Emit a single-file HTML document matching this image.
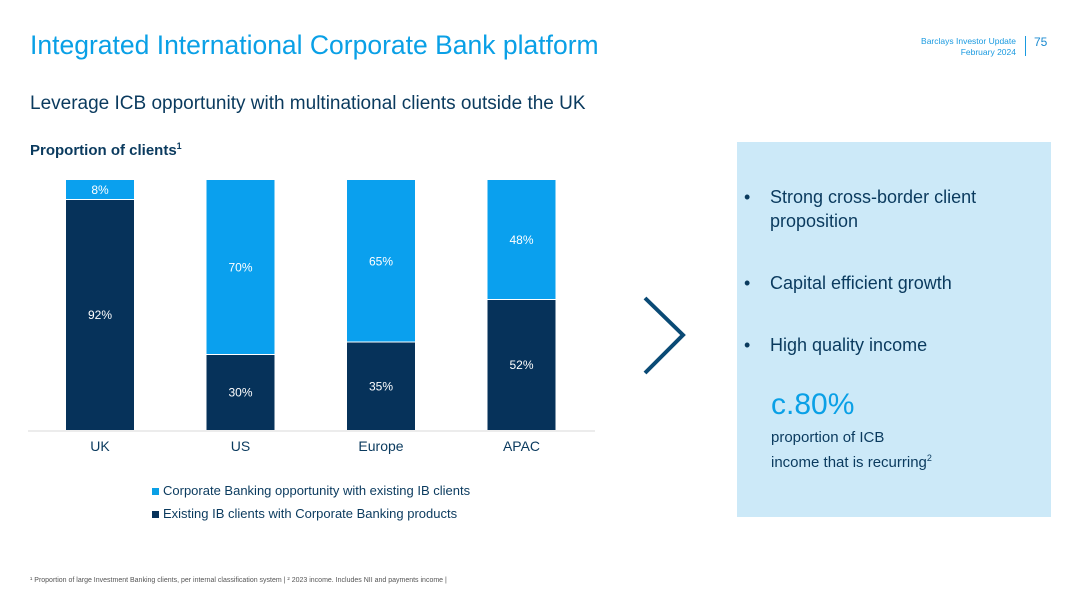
<!DOCTYPE html>
<html><head><meta charset="utf-8"><style>
body{margin:0;width:1080px;height:607px;background:#fff;font-family:"Liberation Sans",sans-serif;position:relative;overflow:hidden}
.a{position:absolute;white-space:nowrap}
.b{position:absolute;left:0}
.b span{position:absolute;left:26px;top:0}
</style></head><body>
<div class="a" style="left:30px;top:30px;font-size:26.5px;color:#0aa0e6">Integrated International Corporate Bank platform</div>
<div class="a" style="right:64px;top:36px;font-size:8.5px;color:#1a9ae0;text-align:right;line-height:11px">Barclays Investor Update<br>February 2024</div>
<div class="a" style="left:1025px;top:36px;width:1px;height:20px;background:#1a9ae0"></div>
<div class="a" style="left:1034px;top:35px;font-size:12px;color:#1a8ad0">75</div>
<div class="a" style="left:30px;top:93px;font-size:19px;color:#0a3a5e">Leverage ICB opportunity with multinational clients outside the UK</div>
<div class="a" style="left:30px;top:141px;font-size:15px;font-weight:bold;color:#0a3a5e">Proportion of clients<sup style="font-size:9px">1</sup></div>
<svg class="a" style="left:0;top:0" width="620" height="530" id="chart"></svg>
<div class="a" style="left:152px;top:479px;font-size:13px;color:#0a3a5e;line-height:23px">
<div><span style="display:inline-block;width:7px;height:7px;background:#0aa0e6;margin-right:4px"></span>Corporate Banking opportunity with existing IB clients</div>
<div><span style="display:inline-block;width:7px;height:7px;background:#06325a;margin-right:4px"></span>Existing IB clients with Corporate Banking products</div>
</div>
<svg class="a" style="left:640px;top:295px" width="50" height="82"><polyline points="5,3 43,40 5,78" fill="none" stroke="#0a4a75" stroke-width="4"/></svg>
<div class="a" style="left:737px;top:142px;width:314px;height:375px;background:#cce9f8"></div>
<div class="a" style="left:744px;top:185px;font-size:18px;color:#0a3a5e;line-height:24px">
<div class="b" style="top:0">•<span>Strong cross-border client<br>proposition</span></div>
<div class="b" style="top:86px">•<span>Capital efficient growth</span></div>
<div class="b" style="top:148px">•<span>High quality income</span></div>
</div>
<div class="a" style="left:771px;top:388px;font-size:30px;color:#0aa0e6">c.80%</div>
<div class="a" style="left:771px;top:428px;font-size:15px;color:#0a3a5e;line-height:20px">proportion of ICB<br>income that is recurring<sup style="font-size:9px">2</sup></div>
<div class="a" style="left:30px;top:577px;font-size:7px;color:#555">¹ Proportion of large Investment Banking clients, per internal classification system | ² 2023 income. Includes NII and payments income |</div>
<script>
const categories=["UK","US","Europe","APAC"];
const existing=[92,30,35,52];
const opportunity=[8,70,65,48];
const svg=document.getElementById('chart');
const NS='http://www.w3.org/2000/svg';
const top0=180,bottom=430,x0=100,step=140.5,bw=68;
const y=v=>bottom-(v/100)*(bottom-top0);
const cx=i=>x0+i*step;
function mk(t,a){const e=document.createElementNS(NS,t);for(const k in a)e.setAttribute(k,a[k]);svg.appendChild(e);return e;}
const base=mk('line',{x1:28,x2:595,y1:431,y2:431,stroke:'#e6e6e6','stroke-width':1.5});


categories.forEach((c,i)=>{
  const e=existing[i],o=opportunity[i];
  const r1=mk('rect',{x:cx(i)-bw/2,y:y(e),width:bw,height:bottom-y(e),fill:'#06325a'});
  
  
  const r2=mk('rect',{x:cx(i)-bw/2,y:y(e+o),width:bw,height:y(e)-y(e+o)-1,fill:'#0aa0ee'});
  
  
  const t1=mk('text',{x:cx(i),y:(y(e)+bottom)/2+4,'text-anchor':'middle','font-size':12,fill:'#fff','font-family':'Liberation Sans'});
  t1.textContent=e+'%';
  
  
  const t2=mk('text',{x:cx(i),y:(y(e)+y(e+o))/2+4,'text-anchor':'middle','font-size':12,fill:'#fff','font-family':'Liberation Sans'});
  t2.textContent=o+'%';
  
  
  const t3=mk('text',{x:cx(i),y:451,'text-anchor':'middle','font-size':14,fill:'#0a3a5e','font-family':'Liberation Sans'});
  t3.textContent=c;
  
  
});
</script>
</body></html>
